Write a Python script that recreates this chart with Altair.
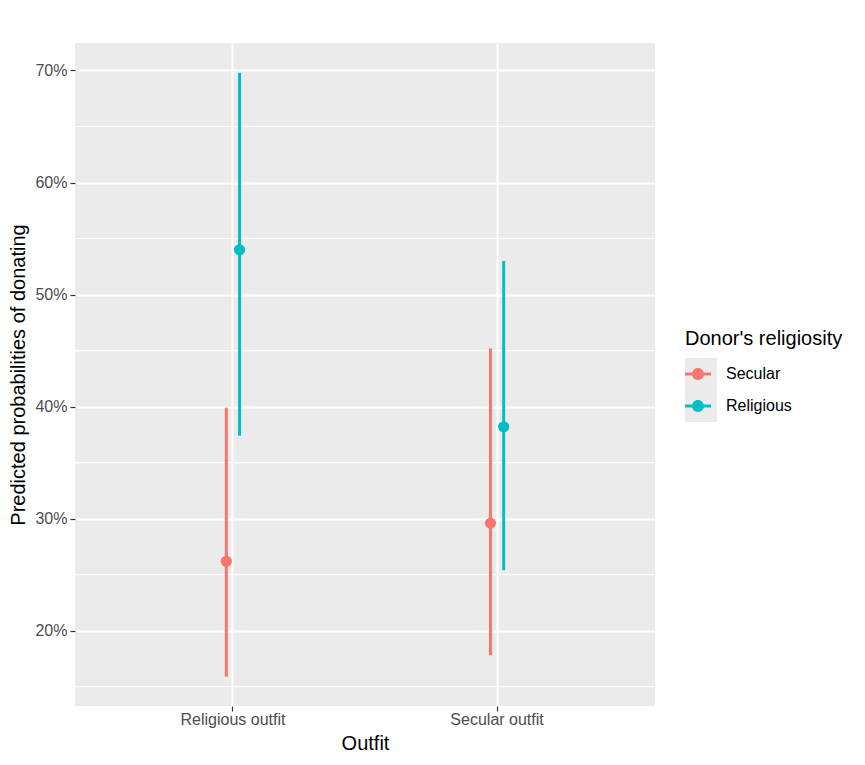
import altair as alt
import pandas as pd

outfits = ["Religious outfit", "Secular outfit"]
donor_levels = ["Secular", "Religious"]
row_outfit = ["Religious outfit", "Religious outfit", "Secular outfit", "Secular outfit"]
row_donor = ["Secular", "Religious", "Secular", "Religious"]
estimate = [0.262, 0.540, 0.296, 0.382]
lower = [0.159, 0.374, 0.178, 0.254]
upper = [0.399, 0.698, 0.452, 0.530]
major_breaks = [0.2, 0.3, 0.4, 0.5, 0.6, 0.7]
minor_breaks = [0.15, 0.25, 0.35, 0.45, 0.55, 0.65]
colors = ["#F8766D", "#00BFC4"]

df = pd.DataFrame({
    "outfit": row_outfit,
    "donor": row_donor,
    "key": [d + "_key" for d in row_donor],
    "est": estimate,
    "lo": lower,
    "hi": upper,
})
minor_df = pd.DataFrame({"y": minor_breaks})
key_levels = [d + "_key" for d in donor_levels]

W, H = 580, 663
ydom = [0.1328, 0.7245]
FONT = "Liberation Sans"

xenc = alt.X("outfit:N", sort=outfits, title="Outfit",
             scale=alt.Scale(domain=outfits, paddingInner=0.9, paddingOuter=0.548),
             axis=alt.Axis(bandPosition=0.5, labelAngle=0, labelAlign="center",
                           grid=True, gridColor="white",
                           gridWidth=2, domain=False, tickColor="#333333", tickSize=5,
                           tickWidth=1.2, labelColor="#4D4D4D", labelFontSize=16,
                           labelPadding=8, titleFontSize=20, titleColor="black",
                           titleFontWeight="normal", titlePadding=6,
                           labelFont=FONT, titleFont=FONT))
yscale = alt.Scale(domain=ydom, nice=False, zero=False)
xoff = alt.XOffset("donor:N", sort=donor_levels,
                   scale=alt.Scale(domain=donor_levels, paddingInner=0, paddingOuter=0))
color = alt.Color("donor:N", sort=donor_levels,
                  scale=alt.Scale(domain=donor_levels, range=colors),
                  legend=alt.Legend(
                      title="Donor's religiosity", orient="none", legendX=610, legendY=286,
                      titleFontSize=20, titleFontWeight="normal", titleColor="black",
                      titleFont=FONT, titleBaseline="top", titlePadding=12,
                      labelFontSize=16, labelColor="black", labelFont=FONT,
                      labelOffset=15, padding=0, rowPadding=11, zindex=2,
                      symbolSize=676, symbolOpacity=1, symbolStrokeWidth=0,
                      symbolType="M-1,-0.11 L-0.42,-0.11 L-0.42,0.11 L-1,0.11 Z "
                                 "M0.42,-0.11 L1,-0.11 L1,0.11 L0.42,0.11 Z "
                                 "M0.46,0 A0.46,0.46 0 1 1 -0.46,0 A0.46,0.46 0 1 1 0.46,0 Z"))

minor = alt.Chart(minor_df).mark_rule(color="white", strokeWidth=1.1).encode(
    y=alt.Y("y:Q", scale=yscale),
)

rules = alt.Chart(df).mark_rule(strokeWidth=3).encode(
    x=xenc,
    xOffset=xoff,
    y=alt.Y("lo:Q", scale=yscale, title="Predicted probabilities of donating",
            axis=alt.Axis(values=major_breaks, format=".0%", grid=True, gridColor="white",
                          gridWidth=2, domain=False, tickColor="#333333", tickSize=5,
                          tickWidth=1.2, labelColor="#4D4D4D", labelFontSize=16,
                          labelPadding=3, titleFontSize=20, titleColor="black",
                          titleFontWeight="normal", titlePadding=6,
                          labelFont=FONT, titleFont=FONT)),
    y2="hi:Q",
    color=color,
)

points = alt.Chart(df).mark_point(filled=True, size=125, opacity=1).encode(
    x=alt.X("outfit:N", sort=outfits),
    xOffset=alt.XOffset("donor:N", sort=donor_levels),
    y=alt.Y("est:Q", scale=yscale),
    color=alt.Color("donor:N", sort=donor_levels),
)

keybg = alt.Chart(df).mark_point(filled=True, opacity=0, color="#EBEBEB").encode(
    x=alt.X("outfit:N", sort=outfits),
    y=alt.Y("est:Q", scale=yscale),
    shape=alt.Shape("key:N", sort=key_levels,
                    scale=alt.Scale(domain=key_levels, range=["square", "square"]),
                    legend=alt.Legend(title=None, orient="none", legendX=610, legendY=315,
                                      symbolSize=1024, symbolFillColor="#EBEBEB",
                                      symbolStrokeWidth=0, symbolOpacity=1, rowPadding=0,
                                      labelExpr="''", padding=0, zindex=0, labelFontSize=1)),
)

chart = alt.layer(minor, keybg, rules, points).properties(
    width=W, height=H,
    background="white",
    padding={"left": 67, "top": 35, "right": 200, "bottom": 50},
    autosize=alt.AutoSizeParams(type="none"),
).configure_view(fill="#EBEBEB", stroke=None)

chart.save("out.html", embed_options={"renderer": "svg", "actions": False})
